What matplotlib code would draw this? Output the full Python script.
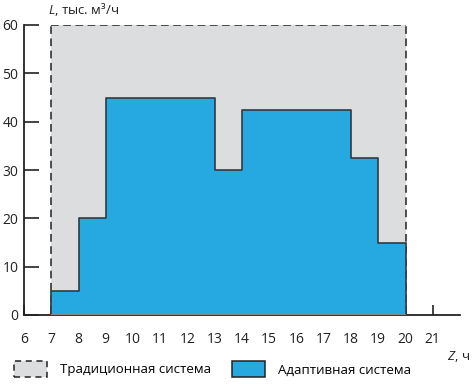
import numpy as np
import matplotlib.pyplot as plt
from matplotlib.patches import Patch

plt.rcParams['font.family'] = ['Open Sans', 'DejaVu Sans']
plt.rcParams['mathtext.fontset'] = 'custom'
plt.rcParams['mathtext.it'] = 'Open Sans:italic'
plt.rcParams['mathtext.rm'] = 'Open Sans'

hours = [7, 8, 9, 10, 11, 12, 13, 14, 15, 16, 17, 18, 19, 20]
adaptive = [5, 20, 45, 45, 45, 45, 30, 42.5, 42.5, 42.5, 42.5, 32.5, 15]
traditional = [60] * 13

gray = '#dcddde'
blue = '#25a9e0'

fig = plt.figure(figsize=(4.73, 3.84), dpi=100)
ax = fig.add_axes([24/473, 69/384, 436/473, 290/384])

x = np.array(hours)
trad = np.append(traditional, traditional[-1])
adap = np.append(adaptive, adaptive[-1])

ax.fill_between(x, 0, trad, step='post', color=gray, lw=0, zorder=1)
ax.step(x, trad, where='post', color='#222222', lw=1.1, ls=(0, (5, 3)), zorder=2)
ax.vlines(x[0], 0, trad[0], color='#222222', lw=1.1, ls=(0, (5, 3)), zorder=2)
ax.vlines(x[-1], 0, trad[-1], color='#222222', lw=1.1, ls=(0, (5, 3)), zorder=2)

ax.fill_between(x, 0, adap, step='post', color=blue, lw=0, zorder=3)
ax.step(x, adap, where='post', color='#333a40', lw=1.2, zorder=4)
ax.vlines([x[0], x[-1]], 0, [adap[0], adap[-1]], color='#333a40', lw=1.2, zorder=4)
ax.hlines(0, x[0], x[-1], color='#888888', lw=1.5, zorder=4)

ax.set_xlim(6, 22)
ax.set_ylim(0, 60)
ax.set_xticks(range(6, 22))
ax.set_yticks(range(0, 61, 10))
ax.tick_params(direction='in', length=7, width=1.2, labelsize=10, colors='#222222')
ax.tick_params(axis='y', length=11, pad=4)
ax.tick_params(axis='x', pad=12)
for s in ['top', 'right']:
    ax.spines[s].set_visible(False)
for s in ['left', 'bottom']:
    ax.spines[s].set_linewidth(1.3)
    ax.spines[s].set_color('#222222')

fig.text(48/473, 1 - 10/384, '$L$, тыс. м³/ч', fontsize=9.5, va='center', color='#222222')
fig.text(447/473, 1 - 357/384, '$Z$, ч', fontsize=9.5, va='center', color='#222222')

handles = [Patch(facecolor=gray, edgecolor='#222222', ls=(0, (4, 3)), lw=1.1),
           Patch(facecolor=blue, edgecolor='#222222', lw=1.1)]
fig.legend(handles, ['Традиционная система', 'Адаптивная система'],
           loc='center left', bbox_to_anchor=(2/473, 1 - 369/384),
           ncol=2, frameon=False, fontsize=9.5, handlelength=2.5, handleheight=1.4,
           handletextpad=1.0, columnspacing=1.6)

fig.savefig('out.png', dpi=100)
